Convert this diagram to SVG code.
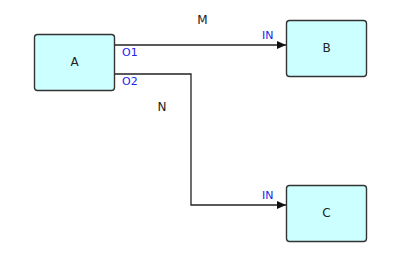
<svg xmlns="http://www.w3.org/2000/svg" width="400" height="258" viewBox="0 0 400 258">
<style>
.node rect{fill:#ccffff;stroke:#333333;stroke-width:1.4}
.lbl{font-family:"DejaVu Sans",sans-serif;font-size:12px;fill:#222222;text-anchor:middle}
.port{font-family:"DejaVu Sans",sans-serif;font-size:11px;fill:#2222ee}
.edge{fill:none;stroke:#222222;stroke-width:1.3}
</style>
<defs>
<marker id="arr" markerWidth="10" markerHeight="8" refX="9" refY="4" orient="auto" markerUnits="userSpaceOnUse">
<path d="M0,0 L9,4 L0,8 Z" fill="#111111"/>
</marker>
</defs>
<rect width="400" height="258" fill="#ffffff"/>
<g id="connectors">
<path class="edge" d="M114,45 L286,45" marker-end="url(#arr)"/>
<path class="edge" d="M114,74 L191,74 L191,205 L286,205" marker-end="url(#arr)"/>
<text class="lbl" x="202.5" y="24">M</text>
<text class="lbl" x="162" y="111">N</text>
<text class="port" x="122" y="56">O1</text>
<text class="port" x="122" y="85">O2</text>
<text class="port" x="262" y="39">IN</text>
<text class="port" x="262" y="199">IN</text>
</g>
<g id="A" class="node">
<rect x="34.5" y="34.5" width="80" height="56" rx="3"/>
<text class="lbl" x="74.5" y="66">A</text>
</g>
<g id="B" class="node">
<rect x="286.5" y="20.5" width="80" height="56" rx="3"/>
<text class="lbl" x="326.5" y="52">B</text>
</g>
<g id="C" class="node">
<rect x="286.5" y="185.5" width="80" height="56" rx="3"/>
<text class="lbl" x="326.5" y="217">C</text>
</g>
</svg>
